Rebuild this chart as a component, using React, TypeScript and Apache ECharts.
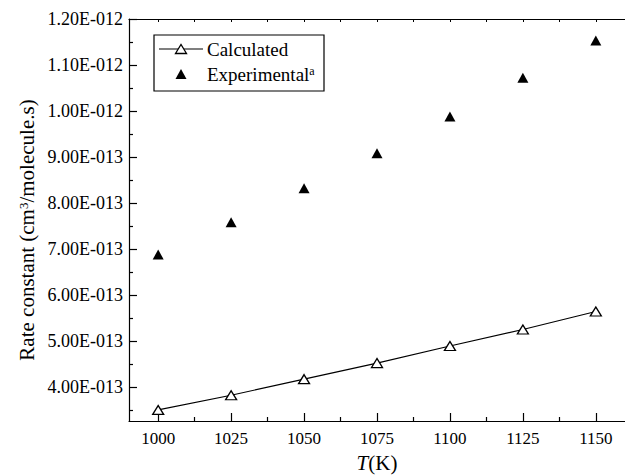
import React, { useEffect, useRef } from "react";
import * as echarts from "echarts";

const temperatures = [1000, 1025, 1050, 1075, 1100, 1125, 1150];
const calculated = [3.5e-13, 3.82e-13, 4.17e-13, 4.52e-13, 4.89e-13, 5.25e-13, 5.64e-13];
const experimental = [6.88e-13, 7.58e-13, 8.32e-13, 9.08e-13, 9.88e-13, 1.072e-12, 1.153e-12];

const xMajorTicks = [1000, 1025, 1050, 1075, 1100, 1125, 1150];
const xMinorTicks = [1012.5, 1037.5, 1062.5, 1087.5, 1112.5, 1137.5];
const xTopTicks = [1000, 1012.5, 1025, 1037.5, 1050, 1062.5, 1075, 1087.5, 1100, 1112.5, 1125, 1137.5, 1150];

const yMajorTicks = [4e-13, 5e-13, 6e-13, 7e-13, 8e-13, 9e-13, 1.0e-12, 1.1e-12, 1.2e-12];
const yTickLabels = ["4.00E-013", "5.00E-013", "6.00E-013", "7.00E-013", "8.00E-013", "9.00E-013", "1.00E-012", "1.10E-012", "1.20E-012"];
const yMinorTicks = [3.5e-13, 4.5e-13, 5.5e-13, 6.5e-13, 7.5e-13, 8.5e-13, 9.5e-13, 1.05e-12, 1.15e-12];

const FONT = "Liberation Serif";

export default function App() {
  const ref = useRef<HTMLDivElement>(null);

  useEffect(() => {
    if (!ref.current) return;
    const chart = echarts.init(ref.current, null, { renderer: "svg" });

    const xMin = 990;
    const xMax = 1160;
    const yMin = 3.26e-13;
    const yMax = 1.2e-12;

    const black = "#000";

    const option: any = {
      animation: false,
      backgroundColor: "#fff",
      textStyle: { fontFamily: FONT, color: black },
      grid: { left: 129, top: 19, width: 496, height: 402, containLabel: false },
      xAxis: [
        {
          type: "value",
          position: "bottom",
          min: xMin,
          max: xMax,
          axisLine: { show: true, onZero: false, lineStyle: { color: black, width: 1.2 } },
          axisTick: { show: true, inside: true, length: 8, customValues: xMajorTicks, lineStyle: { color: black, width: 1.2 } },
          axisLabel: {
            show: true,
            customValues: xMajorTicks,
            margin: 9,
            color: black,
            fontFamily: FONT,
            fontSize: 17,
            formatter: (v: number) => String(Math.round(v)),
          },
          splitLine: { show: false },
        },
        {
          type: "value",
          position: "bottom",
          min: xMin,
          max: xMax,
          axisLine: { show: false, onZero: false },
          axisTick: { show: true, inside: true, length: 4, customValues: xMinorTicks, lineStyle: { color: black, width: 1.2 } },
          axisLabel: { show: false },
          splitLine: { show: false },
        },
        {
          type: "value",
          position: "top",
          min: xMin,
          max: xMax,
          axisLine: { show: true, onZero: false, lineStyle: { color: black, width: 1.2 } },
          axisTick: { show: true, inside: true, length: 3, customValues: xTopTicks, lineStyle: { color: black, width: 1 } },
          axisLabel: { show: false },
          splitLine: { show: false },
        },
      ],
      yAxis: [
        {
          type: "value",
          position: "left",
          min: yMin,
          max: yMax,
          axisLine: { show: true, onZero: false, lineStyle: { color: black, width: 1.2 } },
          axisTick: { show: true, inside: true, length: 8, customValues: yMajorTicks, lineStyle: { color: black, width: 1.2 } },
          axisLabel: {
            show: true,
            customValues: yMajorTicks,
            margin: 6,
            color: black,
            fontFamily: FONT,
            fontSize: 18,
            formatter: (v: number) => {
              let best = 0;
              let bestD = Infinity;
              yMajorTicks.forEach((t, i) => {
                const d = Math.abs(t - v);
                if (d < bestD) {
                  bestD = d;
                  best = i;
                }
              });
              return yTickLabels[best];
            },
          },
          splitLine: { show: false },
        },
        {
          type: "value",
          position: "left",
          min: yMin,
          max: yMax,
          axisLine: { show: false, onZero: false },
          axisTick: { show: true, inside: true, length: 4, customValues: yMinorTicks, lineStyle: { color: black, width: 1.2 } },
          axisLabel: { show: false },
          splitLine: { show: false },
        },
      ],
      series: [
        {
          name: "Calculated",
          type: "line",
          xAxisIndex: 0,
          yAxisIndex: 0,
          data: temperatures.map((t, i) => [t, calculated[i]]),
          symbol: "triangle",
          symbolSize: [11, 9],
          showAllSymbol: true,
          lineStyle: { color: black, width: 1.2 },
          itemStyle: { color: "#fff", borderColor: black, borderWidth: 1.3 },
          z: 3,
        },
        {
          name: "Experimental",
          type: "scatter",
          xAxisIndex: 0,
          yAxisIndex: 0,
          data: temperatures.map((t, i) => [t, experimental[i]]),
          symbol: "triangle",
          symbolSize: [11, 10],
          itemStyle: { color: black, opacity: 1 },
          z: 3,
        },
      ],
      graphic: [
        {
          type: "rect",
          shape: { x: 154, y: 35, width: 170, height: 56 },
          style: { fill: "#fff", stroke: black, lineWidth: 1.2 },
          z: 10,
        },
        {
          type: "line",
          shape: { x1: 159, y1: 49, x2: 203, y2: 49 },
          style: { stroke: black, lineWidth: 1.2 },
          z: 11,
        },
        {
          type: "polygon",
          shape: { points: [[175.5, 53.5], [186.5, 53.5], [181, 44.5]] },
          style: { fill: "#fff", stroke: black, lineWidth: 1.3 },
          z: 12,
        },
        {
          type: "text",
          x: 207,
          y: 49,
          style: { text: "Calculated", fill: black, font: "19px Liberation Serif", verticalAlign: "middle", align: "left" },
          z: 12,
        },
        {
          type: "polygon",
          shape: { points: [[175.5, 79], [186.5, 79], [181, 69]] },
          style: { fill: black },
          z: 12,
        },
        {
          type: "text",
          x: 207,
          y: 74,
          style: {
            text: "{n|Experimental}{s|a}",
            verticalAlign: "middle",
            align: "left",
            rich: {
              n: { fontFamily: FONT, fontSize: 19, fill: black, color: black },
              s: { fontFamily: FONT, fontSize: 12, fill: black, color: black, verticalAlign: "top" },
            },
          },
          z: 12,
        },
        {
          type: "text",
          x: 27,
          y: 230,
          rotation: Math.PI / 2,
          style: {
            text: "{n|Rate constant (cm}{s|3}{n|/molecule.s)}",
            align: "center",
            verticalAlign: "middle",
            rich: {
              n: { fontFamily: FONT, fontSize: 21, fill: black, color: black },
              s: { fontFamily: FONT, fontSize: 13, fill: black, color: black, verticalAlign: "top" },
            },
          },
        },
        {
          type: "text",
          x: 377,
          y: 463,
          style: {
            text: "{i|T}{n|(K)}",
            align: "center",
            verticalAlign: "middle",
            rich: {
              i: { fontFamily: FONT, fontSize: 21, fontStyle: "italic", fill: black, color: black },
              n: { fontFamily: FONT, fontSize: 21, fill: black, color: black },
            },
          },
        },
      ],
    };

    chart.setOption(option);
    return () => chart.dispose();
  }, []);

  return (
    <div
      ref={ref}
      style={{ position: "fixed", left: 0, top: 0, width: 625, height: 475, background: "#fff" }}
    />
  );
}
